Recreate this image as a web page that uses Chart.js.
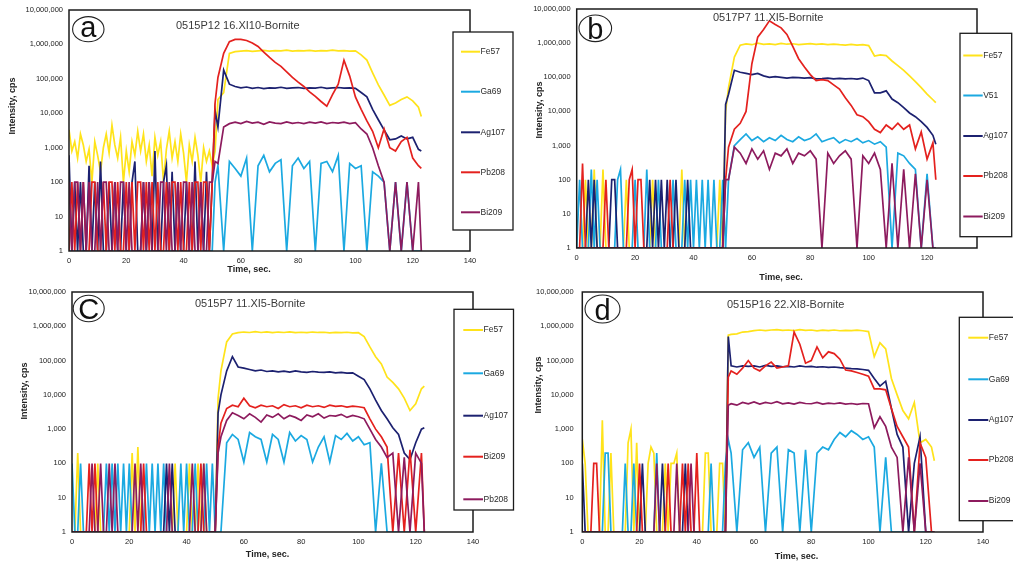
<!DOCTYPE html>
<html>
<head>
<meta charset="utf-8">
<script src="https://cdn.jsdelivr.net/npm/chart.js@4.4.1/dist/chart.umd.min.js"></script>
<style>
  html, body { margin: 0; padding: 0; background: #fff; }
  #wrap { position: relative; width: 1013px; height: 567px; overflow: hidden; }
  #wrap canvas { position: absolute; left: 0; top: 0; }
</style>
</head>
<body>
<div id="wrap">
  <canvas id="chartA" width="1013" height="567"></canvas>
  <canvas id="chartB" width="1013" height="567"></canvas>
  <canvas id="chartC" width="1013" height="567"></canvas>
  <canvas id="chartD" width="1013" height="567"></canvas>
</div>
<script>
/* LA-ICP-MS time-resolved spectra of bornite, four panels a-d */

// time, sec. (1 s steps through the background, 2 s through the signal)
const TIME = [0,1,2,3,4,5,6,7,8,9,
  10,11,12,13,14,15,16,17,18,19,
  20,21,22,23,24,25,26,27,28,29,
  30,31,32,33,34,35,36,37,38,39,
  40,41,42,43,44,45,46,47,48,49,
  50,51,52,
  54,56,58,60,62,64,66,68,70,72,
  74,76,78,80,82,84,86,88,90,92,
  94,96,98,100,102,104,106,108,110,112,
  114,116,118,120,122,123];

const Y_TICKS = [1, 10, 100, 1000, 10000, 100000, 1000000, 10000000];

// ---- panel a : 0515P12 16.XI10-Bornite ----
const A_LABELS = ['Fe57', 'Ga69', 'Ag107', 'Pb208', 'Bi209'];
const A_FE57 = [
  3300,800,1500,500,2500,1200,400,900,100,1500,
  600,200,1000,2500,700,4500,1200,500,2000,100,
  800,200,1500,600,3000,800,2500,400,1200,150,
  2000,600,1500,100,900,3000,500,1500,400,2500,
  700,100,1200,400,2000,600,100,1000,400,800,
  300,800,2.5e4,
  4e4,5.5e5,6.2e5,6.4e5,6.6e5,6.3e5,6.5e5,6.7e5,6.4e5,6.6e5,
  6.5e5,6.8e5,6.4e5,6.6e5,6.5e5,6.7e5,6.4e5,6.6e5,6.5e5,6.8e5,
  6.5e5,6.6e5,6.4e5,6.5e5,5e5,3.5e5,1.5e5,6.7e4,3.4e4,1.7e4,
  2e4,2.5e4,3e4,2.3e4,1.5e4,8e3];
const A_GA69 = [
  1,1,1,1,1,1,1,1,1,1,
  1,1,1,1,1,1,1,1,1,1,
  1,1,1,1,1,1,1,1,1,1,
  1,1,1,1,1,1,1,1,1,1,
  1,1,1,1,1,1,1,1,1,1,
  1,100,300,
  1,400,250,150,500,1,300,600,200,350,
  450,1,300,500,250,400,1,350,400,200,
  600,1,350,250,300,1,200,150,100,1,
  100,1,100,1,1,1];
const A_AG107 = [
  600,1,100,1,100,1,1,300,1,100,
  1,400,1,1,100,1,100,1,1,100,
  1,1,100,400,1,1,100,1,100,1,
  800,1,1,100,300,1,200,1,100,1,
  1,100,1,1,400,1,100,1,200,1,
  100,1.2e4,4e3,
  1.8e5,7e4,6e4,5.5e4,5.8e4,5.3e4,5.6e4,5.2e4,5.5e4,5.4e4,
  5.7e4,5.3e4,5.5e4,5.6e4,5.3e4,5.5e4,5.4e4,5.7e4,5.3e4,5.5e4,
  5.6e4,5.4e4,5.5e4,5.3e4,4e4,3e4,1.3e4,6.5e3,3.3e3,1.7e3,
  1.8e3,2.2e3,1.8e3,2e3,900,800];
const A_PB208 = [
  1,100,1,100,1,100,1,1,100,100,
  1,1,100,1,100,100,1,100,1,1,
  100,1,100,1,100,100,1,100,1,100,
  1,100,1,1,100,1,100,100,1,100,
  1,1,100,1,100,100,1,100,100,1,
  100,2e4,1.1e5,
  5.5e5,1.2e6,1.4e6,1.4e6,1.3e6,1.1e6,8.7e5,6e5,4.2e5,3e5,
  2.3e5,1.6e5,1.1e5,8e4,6e4,4.2e4,3.1e4,2.2e4,1.6e4,3.5e4,
  7e4,3.5e5,1.2e5,3e4,1.3e4,6e3,3e3,1e3,3.5e3,1e3,
  800,1.5e3,2e3,500,300,250];
const A_BI209 = [
  100,1,100,100,1,100,1,100,1,1,
  100,1,100,100,1,1,100,1,100,100,
  1,100,1,1,1,1,100,1,100,1,
  1,1,100,100,1,100,1,1,100,1,
  100,100,1,100,1,1,100,1,1,100,
  100,400,350,
  4e3,5e3,5.5e3,5e3,5.8e3,5.2e3,5.5e3,4.8e3,5.6e3,5.2e3,
  5e3,5.6e3,5.1e3,5.4e3,5e3,5.5e3,5.2e3,5.6e3,5e3,5.4e3,
  5.2e3,5.5e3,5e3,5.3e3,3.5e3,2.5e3,1e3,300,100,1,
  100,1,100,1,100,1];

// ---- panel b : 0517P7 11.XI5-Bornite ----
const B_LABELS = ['Fe57', 'V51', 'Ag107', 'Pb208', 'Bi209'];
const B_FE57 = [
  1,1,1,100,1,1,200,1,1,200,
  1,1,1,1,1,1,1,100,1,1,
  1,1,1,1,1,1,100,1,1,1,
  1,1,1,1,1,1,200,1,1,1,
  1,1,1,1,1,1,1,1,1,100,
  1,1e4,5e4,
  3.9e5,8.7e5,9.5e5,9e5,1e6,9.2e5,9.5e5,9e5,9.8e5,9.3e5,
  9.6e5,9e5,9.4e5,9.7e5,9.2e5,9.5e5,9e5,9.3e5,9e5,8.8e5,
  9.2e5,8.7e5,9e5,8.5e5,4.2e5,4.5e5,4.3e5,3e5,2.2e5,1.6e5,
  1.1e5,7.5e4,5e4,3.2e4,2.2e4,1.8e4];
const B_V51 = [
  1,100,1,1,1,200,1,100,1,1,
  1,1,1,1,100,200,1,1,1,1,
  100,1,1,1,200,1,1,1,100,1,
  1,1,1,100,1,1,1,100,1,100,
  1,100,1,100,1,100,1,100,1,1,
  100,1,100,
  1e3,1.5e3,2.2e3,1.4e3,1.8e3,1.3e3,1.7e3,1.4e3,2e3,1.5e3,
  1.3e3,1.8e3,1.4e3,1.6e3,2.2e3,1.3e3,1.5e3,1.7e3,1.2e3,1.5e3,
  1.3e3,1.6e3,1.2e3,1.4e3,1.1e3,1.3e3,900,1,600,500,
  300,200,1,150,1,1];
const B_AG107 = [
  1,1,1,1,100,1,100,1,1,1,
  1,1,100,100,1,1,1,1,1,1,
  1,1,1,1,1,100,1,100,1,100,
  1,100,1,1,100,1,1,1,100,1,
  1,1,1,1,1,1,1,1,1,1,
  1,1.6e4,3.2e4,
  1.6e5,1.4e5,1.3e5,1.2e5,1.3e5,1.1e5,1e5,1.05e5,1e5,9.5e4,
  1e5,9.8e4,9.5e4,9.8e4,9e4,9.2e4,9.5e4,9e4,9.3e4,9e4,
  9.2e4,8.8e4,9.5e4,8e4,3.5e4,3.5e4,4e4,2.3e4,1.8e4,1.3e4,
  9e3,7e3,5e3,3.4e3,2e3,1.1e3];
const B_PB208 = [
  1,1,300,1,1,1,1,1,1,1,
  100,1,1,1,1,1,1,1,100,200,
  1,100,100,1,1,1,1,1,1,1,
  1,1,100,1,1,1,1,1,1,1,
  1,1,1,1,1,1,1,1,1,1,
  1,100,900,
  3e3,4.5e3,1e4,2.5e5,1.5e6,2.5e6,4.5e6,3.5e6,2.8e6,1.8e6,
  8e5,3.5e5,2e5,1.2e5,8e4,8.5e4,8e4,6e4,4.5e4,2.5e4,
  1.5e4,8e3,7e3,5e3,3e3,2.4e3,4e3,3e3,4.5e3,3e3,
  4e3,800,2.5e3,400,1.2e3,100];
const B_BI209 = [
  1,1,1,1,1,1,1,1,1,1,
  1,1,1,1,1,1,1,1,1,1,
  1,1,1,1,1,1,1,1,1,1,
  1,1,1,1,1,1,1,1,1,1,
  1,1,1,1,1,1,1,1,1,1,
  1,100,100,
  900,600,300,800,400,700,200,600,500,800,
  300,600,500,700,400,1,600,300,500,700,
  400,1,500,300,600,200,1,300,1,200,
  1,150,1,100,1,1];

// ---- panel c : 0515P7 11.XI5-Bornite ----
const C_LABELS = ['Fe57', 'Ga69', 'Ag107', 'Bi209', 'Pb208'];
const C_FE57 = [
  1,1,200,1,1,1,1,1,1,100,
  1,1,1,1,1,1,1,1,1,1,
  1,200,1,300,1,1,1,1,1,1,
  1,1,1,1,1,1,100,1,1,1,
  1,100,1,1,100,1,100,1,1,1,
  1,8e3,5e4,
  3.5e5,6e5,6.5e5,6.8e5,6.6e5,7e5,6.6e5,6.9e5,6.5e5,6.8e5,
  6.6e5,6.9e5,6.5e5,6.7e5,6.5e5,6.8e5,6.6e5,6.7e5,6.4e5,6.6e5,
  6.5e5,6.7e5,6.4e5,6.5e5,5e5,2.5e5,1.3e5,8e4,3.3e4,2.3e4,
  1.5e4,8e3,3.5e3,5.5e3,1.5e4,1.8e4];
const C_GA69 = [
  100,1,1,100,1,1,1,1,1,1,
  1,1,100,1,100,1,100,1,100,1,
  100,1,1,1,1,1,100,1,100,1,
  100,1,100,1,1,1,1,1,100,1,
  100,1,1,100,1,1,1,100,1,100,
  1,1,1,
  400,700,500,110,800,600,500,110,700,500,
  110,800,450,650,500,110,300,600,110,650,
  500,750,450,600,350,400,1,100,1,1,
  1,1,1,1,1,1];
const C_AG107 = [
  1,1,1,1,1,1,1,1,1,1,
  1,1,1,1,1,1,1,1,1,1,
  1,1,1,1,1,1,1,1,1,1,
  1,1,1,100,1,100,1,1,1,1,
  1,1,1,1,1,1,1,1,1,1,
  1,3e3,1e4,
  5e4,1.3e5,6.5e4,6e4,5.5e4,5e4,5.3e4,4.8e4,5e4,4.7e4,
  4.9e4,4.6e4,5e4,4.7e4,4.5e4,4.8e4,4.6e4,4.5e4,4.7e4,4.4e4,
  4.5e4,4.3e4,4.4e4,3.5e4,2.8e4,1.5e4,7e3,3.5e3,2e3,1.1e3,
  700,200,130,400,1e3,1.1e3];
const C_BI209 = [
  1,1,1,1,1,1,100,1,100,1,
  1,1,1,1,1,1,1,1,1,1,
  1,1,1,1,1,100,1,1,1,1,
  1,1,1,1,1,1,1,1,1,1,
  1,1,1,1,1,100,1,1,1,1,
  1,300,1.5e3,
  4e3,5e3,4.5e3,8e3,4.8e3,4.2e3,5e3,4.5e3,4.8e3,4e3,
  5.2e3,4.5e3,4.8e3,4.2e3,5e3,4.5e3,4.8e3,4.3e3,5e3,4.6e3,
  4.8e3,4.4e3,4.7e3,4.5e3,4.2e3,2e3,1e3,600,300,1,
  200,1,250,1,200,1];
const C_PB208 = [
  1,1,1,1,1,1,1,100,1,1,
  100,1,1,100,1,100,1,1,1,1,
  1,1,100,1,100,1,1,1,1,1,
  1,1,1,1,100,1,1,1,1,1,
  1,1,100,1,1,1,100,1,1,1,
  1,200,600,
  1.8e3,3e3,2.5e3,2e3,2.8e3,2.2e3,1.6e3,2.6e3,2.2e3,2.8e3,
  2e3,2.5e3,2.2e3,1.8e3,2.6e3,2.3e3,2.8e3,2.1e3,2.5e3,2.4e3,
  2.7e3,2.2e3,2.5e3,2.3e3,2e3,1e3,500,300,150,200,
  1,150,1,200,100,1];

// ---- panel d : 0515P16 22.XI8-Bornite ----
const D_LABELS = ['Fe57', 'Ga69', 'Ag107', 'Pb208', 'Bi209'];
const D_FE57 = [
  500,100,1,1,1,1,1,1800,1,1,
  200,1,1,1,1,1,400,1000,1,400,
  1,1,1,100,300,200,1,1,1,100,
  1,100,100,200,1,1,1,1,1,1,
  1,1,1,200,200,1,1,1,100,100,
  1,5.5e5,5.8e5,
  6e5,6.8e5,7e5,7.5e5,7.8e5,7.5e5,7.8e5,8e5,7.6e5,7.8e5,
  7.5e5,8e5,7.6e5,7.8e5,7.4e5,7.7e5,7.5e5,7.8e5,7.4e5,7.6e5,
  7.5e5,7.7e5,7.4e5,7e5,1.3e5,3.3e5,2.2e5,3e4,1e4,3.5e3,
  2e3,6e3,400,500,300,120];
const D_GA69 = [
  1,1,1,1,1,1,1,1,200,200,
  1,1,1,1,1,100,1,1,100,1,
  1,1,1,1,1,1,200,1,1,1,
  1,1,1,1,1,1,1,1,1,1,
  1,1,1,1,1,100,1,1,1,1,
  100,500,200,
  1,250,400,150,300,1,200,300,1,250,
  200,1,250,1,200,300,250,500,800,600,
  900,700,500,600,300,1,150,1,1,1,
  1,1,1,1,1,1];
const D_AG107 = [
  100,1,1,1,1,1,1,1,1,1,
  1,1,1,1,1,1,1,1,1,1,
  1,100,1,1,1,1,1,1,100,1,
  1,1,1,1,1,1,100,1,1,1,
  1,1,1,1,1,1,1,1,1,1,
  1,5e5,7e4,
  6.5e4,7e4,6.8e4,7e4,6.5e4,7.2e4,6.8e4,7e4,6.6e4,6.8e4,
  6.5e4,7e4,6.6e4,6.8e4,6.4e4,6.6e4,6.3e4,6.5e4,6.2e4,6e4,
  5.8e4,5.7e4,5.5e4,5.2e4,3e4,1.8e4,2.5e4,4e3,700,300,
  1,100,600,1,1,1];
const D_PB208 = [
  1,1,1,1,100,100,1,1,1,1,
  1,1,1,1,1,1,1,1,1,1,
  100,1,1,1,1,1,1,1,1,1,
  100,1,1,1,1,100,1,100,1,1,
  200,1,1,1,1,1,1,1,1,1,
  1,3.3e4,5e4,
  4e4,6e4,1e5,6e4,5e4,7e4,9e4,6e4,6.5e4,7e4,
  6.8e5,3e5,8.4e4,1e5,2.5e5,1.2e5,1.8e5,1.6e5,1.1e5,5.3e4,
  5e4,4.5e4,4e4,3.5e4,1.5e4,1.5e4,1.4e4,4e3,1.2e3,600,
  300,1,400,150,1,1];
const D_BI209 = [
  1,1,1,1,1,1,1,1,1,1,
  1,1,1,1,1,1,1,1,1,1,
  1,1,1,1,1,1,100,1,1,1,
  1,1,1,100,1,1,1,1,100,1,
  1,1,1,1,1,1,1,1,1,1,
  1,5e3,5.5e3,
  5e3,6e3,5.5e3,6.2e3,5.4e3,6e3,5.6e3,6.3e3,5.5e3,5.8e3,
  5.4e3,6e3,5.6e3,5.5e3,6e3,5.4e3,5.7e3,5.5e3,5.8e3,5.4e3,
  5.6e3,5.3e3,5.6e3,5.5e3,1.1e3,2.3e3,1.2e3,300,150,1,
  150,1,100,1,1,1];

// series colours by position (yellow, light blue, navy, red, maroon)
const COLORS = ['#FFE31A', '#1BA9E1', '#1C2170', '#E4211E', '#8D1B5E'];
const FONT = '"Liberation Sans", Arial, Helvetica, sans-serif';

// panel placement on the page (pixels)
const PANEL_A = {
  left: 69, right: 470, top: 10, bottom: 251, xMax: 140, yPad: 6,
  title: '0515P12 16.XI10-Bornite', titleX: 176, titleY: 25.5,
  letter: 'a', cx: 88.3, cy: 29.2, rx: 15.7, ry: 12.6, letterY: 37,
  yTitleX: 13, yTitleY: 106, xTitleX: 249, xTitleY: 270,
  box: [453, 32, 513, 230], lx1: 461, lx2: 480, ys: [51.7, 91.7, 132.3, 172.3, 212.3]
};
const PANEL_B = {
  left: 576.7, right: 977, top: 9, bottom: 248, xMax: 137.1, yPad: 6,
  title: '0517P7 11.XI5-Bornite', titleX: 713, titleY: 18,
  letter: 'b', cx: 595.3, cy: 28.3, rx: 16.3, ry: 13.3, letterY: 38.5,
  yTitleX: 540, yTitleY: 110, xTitleX: 781, xTitleY: 278,
  box: [960, 33.3, 1011.7, 236.7], lx1: 963.3, lx2: 982.7, ys: [55.5, 95.5, 136, 176, 216.5]
};
const PANEL_C = {
  left: 72, right: 473, top: 292, bottom: 532, xMax: 140, yPad: 6,
  title: '0515P7 11.XI5-Bornite', titleX: 195, titleY: 304,
  letter: 'C', cx: 88.7, cy: 308.5, rx: 15.5, ry: 13.3, letterY: 318.5,
  yTitleX: 25, yTitleY: 391, xTitleX: 267.5, xTitleY: 555,
  box: [454, 309.3, 513.5, 510], lx1: 463.3, lx2: 483, ys: [330, 373.3, 415.7, 456.7, 499.3]
};
const PANEL_D = {
  left: 582.3, right: 983, top: 292, bottom: 532, xMax: 140, yPad: 8.7,
  title: '0515P16 22.XI8-Bornite', titleX: 727, titleY: 305,
  letter: 'd', cx: 602.5, cy: 309, rx: 17.5, ry: 14, letterY: 319.5,
  yTitleX: 538.3, yTitleY: 385, xTitleX: 796.5, xTitleY: 556.5,
  box: [959.3, 317.3, 1030, 520.7], lx1: 968.3, lx2: 988.3, ys: [337.7, 379.3, 420, 460, 501]
};

const Y_W = 62, X_H = 30; // fixed axis box sizes (labels are clipped to these boxes)

// frame, sample title, circled letter, axis titles and the boxed legend
function decorPlugin(p) {
  return {
    id: 'decor',
    afterDraw(chart) {
      const { ctx, chartArea: ca } = chart;
      ctx.save();
      ctx.lineWidth = 1.5;
      ctx.strokeStyle = '#1b1b1b';
      ctx.strokeRect(ca.left, ca.top, ca.right - ca.left, ca.bottom - ca.top);

      ctx.fillStyle = '#3a3a3a';
      ctx.font = '11px ' + FONT;
      ctx.textAlign = 'left';
      ctx.textBaseline = 'middle';
      ctx.fillText(p.title, p.titleX, p.titleY);

      ctx.beginPath();
      ctx.ellipse(p.cx, p.cy, p.rx, p.ry, 0, 0, Math.PI * 2);
      ctx.fillStyle = '#fff';
      ctx.fill();
      ctx.lineWidth = 1.1;
      ctx.strokeStyle = '#222';
      ctx.stroke();
      ctx.fillStyle = '#111';
      ctx.font = '29px ' + FONT;
      ctx.textAlign = 'center';
      ctx.textBaseline = 'alphabetic';
      ctx.fillText(p.letter, p.cx, p.letterY);

      ctx.font = 'bold 9px ' + FONT;
      ctx.fillStyle = '#222';
      ctx.textBaseline = 'middle';
      ctx.fillText('Time, sec.', p.xTitleX, p.xTitleY);
      ctx.save();
      ctx.translate(p.yTitleX, p.yTitleY);
      ctx.rotate(-Math.PI / 2);
      ctx.fillText('Intensity, cps', 0, 0);
      ctx.restore();

      const [x1, y1, x2, y2] = p.box;
      ctx.fillStyle = '#fff';
      ctx.fillRect(x1, y1, x2 - x1, y2 - y1);
      ctx.lineWidth = 1.3;
      ctx.strokeStyle = '#1b1b1b';
      ctx.strokeRect(x1, y1, x2 - x1, y2 - y1);
      ctx.font = '8.5px ' + FONT;
      ctx.textAlign = 'left';
      chart.data.datasets.forEach((ds, i) => {
        const y = p.ys[i];
        ctx.strokeStyle = ds.borderColor;
        ctx.lineWidth = 2;
        ctx.beginPath();
        ctx.moveTo(p.lx1, y);
        ctx.lineTo(p.lx2, y);
        ctx.stroke();
        ctx.fillStyle = '#2a2a2a';
        ctx.fillText(ds.label, p.lx2 + 0.5, y);
      });
      ctx.restore();
    }
  };
}

function buildPanel(id, p, labels, series) {
  const tickFont = { family: FONT, size: 7.5 };
  series.forEach((s, i) => {
    if (s.length !== TIME.length) console.warn(id, labels[i], s.length);
  });
  return new Chart(document.getElementById(id), {
    type: 'line',
    data: {
      datasets: series.map((vals, i) => ({
        label: labels[i],
        data: TIME.map((t, k) => ({ x: t, y: vals[k] })),
        borderColor: COLORS[i],
        borderWidth: 1.7,
        pointRadius: 0,
        tension: 0,
        fill: false,
        order: series.length - i   // later series drawn on top
      }))
    },
    options: {
      responsive: false,
      animation: false,
      events: [],
      layout: {
        autoPadding: false,
        padding: { left: p.left - Y_W, top: p.top, right: 1013 - p.right, bottom: 567 - p.bottom - X_H }
      },
      plugins: { legend: { display: false }, tooltip: { enabled: false } },
      scales: {
        x: {
          type: 'linear', min: 0, max: p.xMax,
          grid: { display: false, drawTicks: false },
          border: { display: false },
          ticks: { stepSize: 20, includeBounds: false, padding: 5, font: tickFont, color: '#222', maxRotation: 0, autoSkip: false },
          afterFit(s) { s.height = X_H; s.paddingLeft = 0; s.paddingRight = 0; }
        },
        y: {
          type: 'logarithmic', min: 1, max: 1e7,
          grid: { display: false, drawTicks: false },
          border: { display: false },
          ticks: {
            padding: p.yPad, font: tickFont, color: '#222', autoSkip: false,
            callback: (v) => Number(v).toLocaleString('en-US')
          },
          afterBuildTicks(s) { s.ticks = Y_TICKS.map(v => ({ value: v })); },
          afterFit(s) { s.width = Y_W; s.paddingTop = 0; s.paddingBottom = 0; }
        }
      }
    },
    plugins: [decorPlugin(p)]
  });
}

buildPanel('chartA', PANEL_A, A_LABELS, [A_FE57, A_GA69, A_AG107, A_PB208, A_BI209]);
buildPanel('chartB', PANEL_B, B_LABELS, [B_FE57, B_V51, B_AG107, B_PB208, B_BI209]);
buildPanel('chartC', PANEL_C, C_LABELS, [C_FE57, C_GA69, C_AG107, C_BI209, C_PB208]);
buildPanel('chartD', PANEL_D, D_LABELS, [D_FE57, D_GA69, D_AG107, D_PB208, D_BI209]);
</script>
</body>
</html>
